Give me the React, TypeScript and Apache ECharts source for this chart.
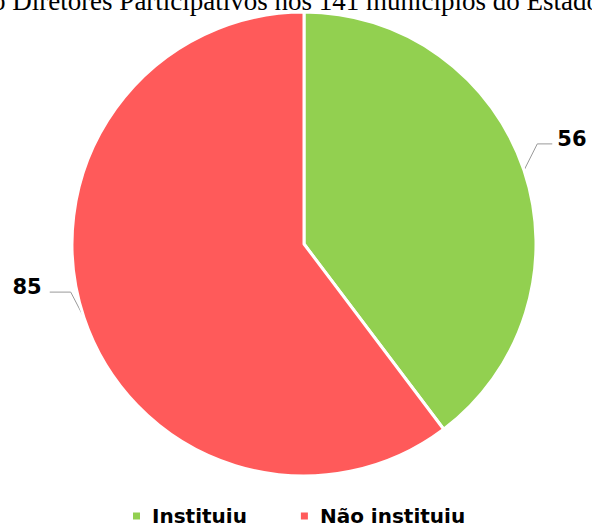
import React, { useEffect, useRef } from "react";
import * as echarts from "echarts";

const titleText = "o Diretores Participativos nos 141 municípios do Estado";
const categories = ["Instituiu", "Não instituiu"];
const values = [56, 85];
const colors = ["#92d050", "#ff5a5a"];
const labelShift = [-22, -30];
const lineExtend = [0, -6];

export default function App() {
  const ref = useRef<HTMLDivElement>(null);
  useEffect(() => {
    document.body.style.margin = "0";
    const chart = echarts.init(ref.current!, null, { renderer: "svg" });
    chart.setOption({
      animation: false,
      title: {
        text: titleText,
        left: "center",
        top: -18,
        textStyle: {
          fontFamily: "Liberation Serif",
          fontWeight: "normal",
          fontSize: 27,
          color: "#000",
        },
      },
      legend: {
        bottom: 0,
        left: 126,
        icon: "rect",
        itemWidth: 9,
        itemHeight: 9,
        itemGap: 52,
        data: categories,
        textStyle: {
          fontFamily: "DejaVu Sans",
          fontWeight: "bold",
          fontSize: 20,
          color: "#000",
          padding: [0, 0, 0, 6],
        },
      },
      series: [
        {
          type: "pie",
          center: [304, 244],
          radius: 232,
          startAngle: 90,
          clockwise: true,
          data: categories.map((c, i) => ({
            name: c,
            value: values[i],
            itemStyle: { color: colors[i] },
          })),
          itemStyle: { borderColor: "#fff", borderWidth: 3 },
          label: {
            show: true,
            formatter: "{c}",
            fontFamily: "DejaVu Sans",
            fontWeight: "bold",
            fontSize: 21,
            color: "#000",
            overflow: "none",
            distanceToLabelLine: 5,
          },
          labelLine: {
            show: true,
            length: 14,
            length2: 15,
            lineStyle: { color: "#999", width: 1 },
          },
          labelLayout: (p: any) => {
            const dy = labelShift[p.dataIndex];
            const dx = lineExtend[p.dataIndex];
            const pts = p.labelLinePoints;
            const out: any = { dy: dy - 5, dx: dx - (dx ? 3 : 0) };
            if (pts && pts.length === 3) {
              out.labelLinePoints = [
                [pts[0][0], pts[0][1]],
                [pts[1][0], pts[1][1] + dy],
                [pts[2][0] + dx, pts[2][1] + dy],
              ];
            }
            return out;
          },
          emphasis: { disabled: true },
        },
      ],
    });
    return () => chart.dispose();
  }, []);
  return <div ref={ref} style={{ width: 592, height: 531 }} />;
}
